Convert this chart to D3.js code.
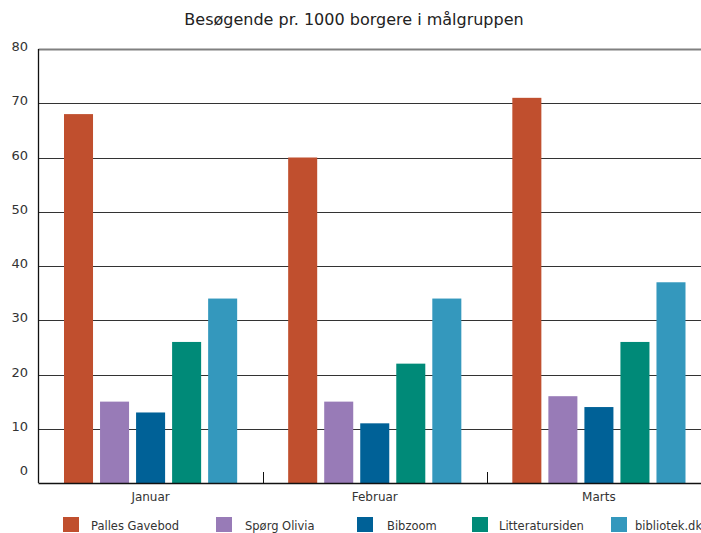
<!DOCTYPE html>
<html><head><meta charset="utf-8">
<script src="https://cdn.jsdelivr.net/npm/d3@7"></script>
<style>body{margin:0;background:#fff}svg{display:block;font-family:"DejaVu Sans",sans-serif}</style>
</head><body>
<svg id="c" width="701" height="533"></svg>
<script>
const title = "Besøgende pr. 1000 borgere i målgruppen";
const months = ["Januar", "Februar", "Marts"];
const seriesNames = ["Palles Gavebod", "Spørg Olivia", "Bibzoom", "Litteratursiden", "bibliotek.dk"];
const pallesGavebod = [68, 60, 71];
const spoergOlivia = [15, 15, 16];
const bibzoom = [13, 11, 14];
const litteratursiden = [26, 22, 26];
const bibliotekDk = [34, 34, 37];
const yTicks = [0, 10, 20, 30, 40, 50, 60, 70, 80];
const colors = ["#C04F2E", "#987BB7", "#006197", "#008A78", "#3498BD"];

const seriesValues = [pallesGavebod, spoergOlivia, bibzoom, litteratursiden, bibliotekDk];
const svg = d3.select("#c");
const pLeft = 38.5, pRight = 711, pTop = 49, pBottom = 483;
const x0 = d3.scaleBand().domain(months).range([pLeft, pRight]);
const x1 = d3.scaleBand().domain(seriesNames).range([25.5, x0.bandwidth() - 25.5]).paddingInner(7/36);
const y = d3.scaleLinear().domain([0, 80]).range([pBottom, pTop]);

svg.append("text").attr("x", 354).attr("y", 25).attr("text-anchor", "middle")
  .attr("font-size", 16).attr("fill", "#222").text(title);

// gridlines
svg.append("g").selectAll("line").data(yTicks.filter(d => d > 0)).join("line")
  .attr("x1", pLeft).attr("x2", 701)
  .attr("y1", d => Math.round(y(d)) + 0.5).attr("y2", d => Math.round(y(d)) + 0.5)
  .attr("stroke", d => d === 80 ? "#808080" : "#333")
  .attr("stroke-width", d => d === 80 ? 2 : 1);

// y labels
svg.append("g").selectAll("text").data(yTicks).join("text")
  .attr("x", 28).attr("text-anchor", "end")
  .attr("y", d => y(d) + (d === 0 ? -8 : 2))
  .attr("font-size", 13).attr("fill", "#333").text(d => d);

// bars
const g = svg.append("g");
months.forEach((m, i) => {
  seriesNames.forEach((s, j) => {
    const v = seriesValues[j][i];
    g.append("rect")
      .attr("x", x0(m) + x1(s)).attr("width", x1.bandwidth())
      .attr("y", y(v)).attr("height", y(0) - y(v))
      .attr("fill", colors[j]);
  });
});

// axes
svg.append("line").attr("x1", pLeft).attr("x2", pLeft).attr("y1", pTop).attr("y2", pBottom)
  .attr("stroke", "#111").attr("stroke-width", 1.3);
svg.append("line").attr("x1", pLeft).attr("x2", 701).attr("y1", pBottom + 0.5).attr("y2", pBottom + 0.5)
  .attr("stroke", "#111").attr("stroke-width", 1.5);
svg.append("g").selectAll("line").data(months.slice(1)).join("line")
  .attr("x1", d => Math.round(x0(d)) + 0.5).attr("x2", d => Math.round(x0(d)) + 0.5)
  .attr("y1", pBottom).attr("y2", pBottom - 11).attr("stroke", "#111");

svg.append("g").selectAll("text").data(months).join("text")
  .attr("x", d => x0(d) + x0.bandwidth() / 2).attr("y", 501)
  .attr("text-anchor", "middle").attr("font-size", 12).attr("fill", "#333").text(d => d);

// legend
const legPos = {"Palles Gavebod": 63, "Spørg Olivia": 216, "Bibzoom": 357, "Litteratursiden": 472, "bibliotek.dk": 611};
const legGap = {"Palles Gavebod": 28, "Spørg Olivia": 29, "Bibzoom": 30, "Litteratursiden": 27, "bibliotek.dk": 24};
const lg = svg.append("g").selectAll("g").data(seriesNames).join("g")
  .attr("transform", d => `translate(${legPos[d]},517)`);
lg.append("rect").attr("width", 16).attr("height", 15).attr("fill", (d, i) => colors[i]);
lg.append("text").attr("x", d => legGap[d]).attr("y", 13).attr("font-size", 11.5).attr("fill", "#333").text(d => d);
</script>
</body></html>
